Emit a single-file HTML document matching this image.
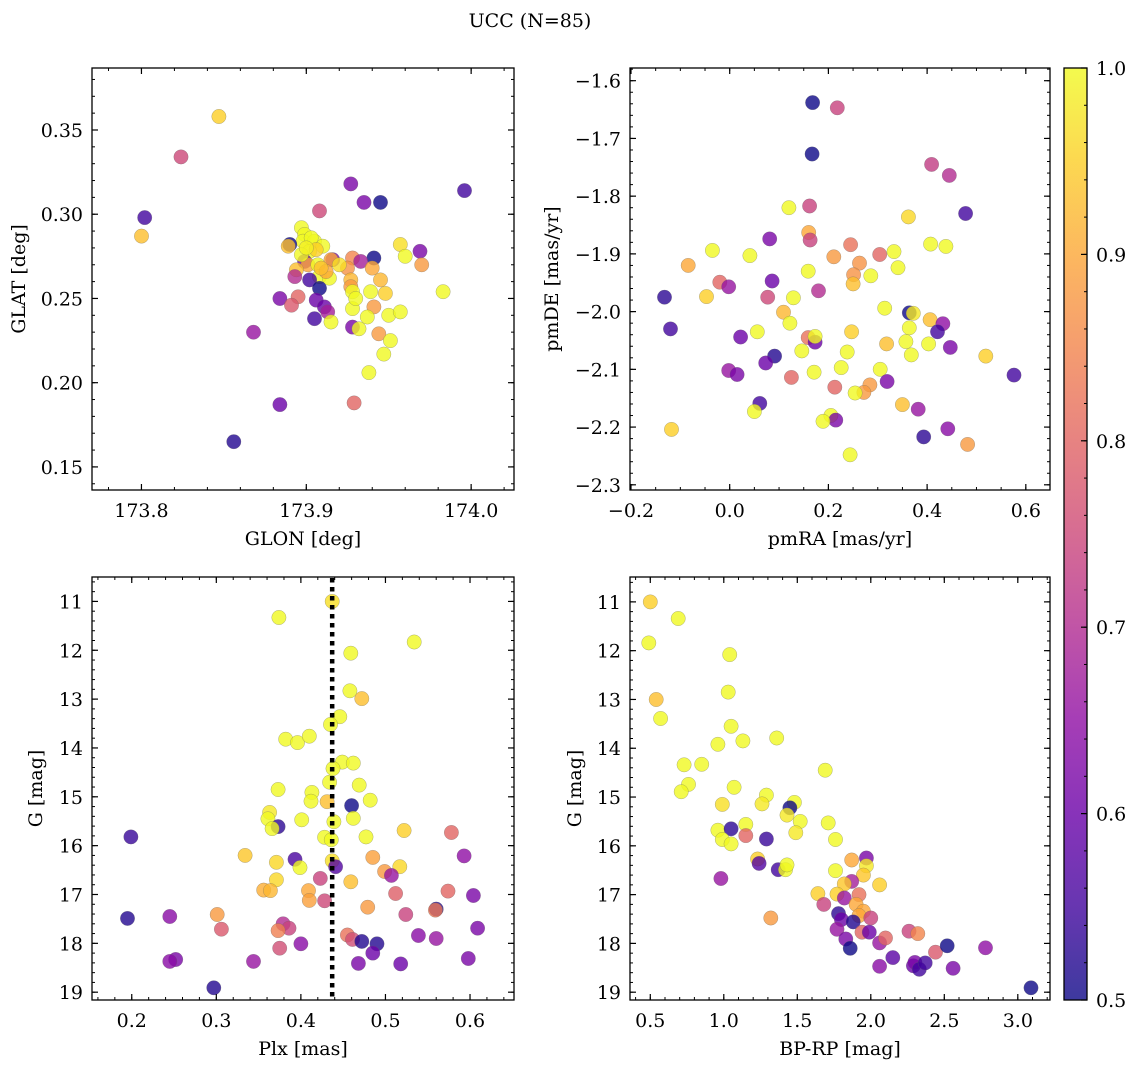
<!DOCTYPE html>
<html><head><meta charset="utf-8"><title>UCC (N=85)</title>
<style>
html,body{margin:0;padding:0;background:#fff;}
svg{display:block;font-family:"DejaVu Serif","Liberation Serif",serif;}
</style></head>
<body>
<svg id="fig" width="1136" height="1067" viewBox="0 0 1136 1067" xmlns="http://www.w3.org/2000/svg">
<text x="530" y="27" font-size="19" text-anchor="middle">UCC (N=85)</text>
</svg>
<script>
// ---- Panel 1: GLON vs GLAT ----
const p1X=[173.847,173.824,173.802,173.800,173.927,173.935,173.945,173.996,173.908,173.897,173.899,173.898,173.905,173.890,173.889,173.910,173.902,173.957,173.960,173.969,173.970,173.941,173.928,173.933,173.916,173.915,173.899,173.901,173.907,173.925,173.940,173.894,173.893,173.908,173.914,173.902,173.927,173.945,173.908,173.927,173.928,173.939,173.948,173.983,173.884,173.895,173.891,173.906,173.911,173.913,173.905,173.915,173.928,173.941,173.937,173.950,173.957,173.928,173.932,173.944,173.951,173.947,173.938,173.868,173.884,173.929,173.856,173.903,173.906,173.912,173.897,173.920,173.930,173.900,173.909];
const p1Y=[0.358,0.334,0.298,0.287,0.318,0.307,0.307,0.314,0.302,0.292,0.288,0.284,0.284,0.282,0.281,0.281,0.278,0.282,0.275,0.278,0.270,0.274,0.274,0.272,0.273,0.273,0.272,0.270,0.270,0.268,0.268,0.267,0.263,0.263,0.262,0.261,0.261,0.261,0.256,0.257,0.254,0.254,0.253,0.254,0.250,0.251,0.246,0.249,0.245,0.242,0.238,0.236,0.244,0.245,0.239,0.240,0.242,0.233,0.232,0.229,0.225,0.217,0.206,0.230,0.187,0.188,0.165,0.286,0.279,0.266,0.276,0.270,0.250,0.280,0.268];
const p1C=[0.95,0.75,0.55,0.93,0.62,0.62,0.5,0.55,0.75,1,1,1,1,0.5,0.93,1,1,0.97,1,0.62,0.88,0.5,0.85,0.68,0.62,0.9,0.6,0.9,1,0.87,0.9,0.93,0.7,1,1,0.55,0.92,0.92,0.5,0.88,1,1,0.95,1,0.62,0.8,0.78,0.6,0.6,0.68,0.55,1,1,0.88,1,1,1,0.62,1,0.88,1,1,1,0.66,0.6,0.8,0.52,1,0.95,0.9,1,0.97,1,0.99,0.93];
// ---- Panel 2: pmRA vs pmDE ----
const p2X=[0.168,0.218,0.167,0.409,0.445,0.162,0.120,0.478,0.362,0.160,0.163,0.081,0.245,0.407,0.438,-0.035,0.041,0.211,0.304,0.333,0.263,-0.084,0.341,0.159,0.286,0.251,0.250,0.086,-0.020,-0.002,0.180,-0.132,-0.047,0.077,0.129,0.109,0.314,0.364,0.372,0.122,-0.120,0.056,0.406,0.432,0.421,0.364,0.247,0.022,0.159,0.173,0.173,0.318,0.357,0.403,0.447,0.146,0.238,0.368,0.519,0.091,0.073,-0.002,0.015,0.125,0.171,0.226,0.305,0.576,0.213,0.319,0.284,0.272,0.254,0.061,0.050,0.350,0.382,0.205,0.215,0.189,-0.118,0.442,0.393,0.482,0.244];
const p2Y=[-1.638,-1.647,-1.727,-1.745,-1.764,-1.817,-1.820,-1.830,-1.836,-1.863,-1.876,-1.874,-1.884,-1.883,-1.887,-1.894,-1.903,-1.905,-1.901,-1.896,-1.916,-1.920,-1.924,-1.930,-1.938,-1.936,-1.952,-1.947,-1.949,-1.957,-1.964,-1.975,-1.974,-1.975,-1.976,-2.001,-1.994,-2.002,-2.003,-2.020,-2.030,-2.035,-2.014,-2.021,-2.035,-2.028,-2.035,-2.044,-2.045,-2.053,-2.043,-2.056,-2.052,-2.056,-2.062,-2.068,-2.070,-2.075,-2.077,-2.077,-2.089,-2.102,-2.109,-2.114,-2.105,-2.097,-2.100,-2.110,-2.131,-2.121,-2.127,-2.140,-2.141,-2.159,-2.173,-2.161,-2.169,-2.180,-2.188,-2.190,-2.204,-2.203,-2.217,-2.230,-2.248];
const p2C=[0.5,0.74,0.5,0.73,0.7,0.74,1,0.55,0.96,0.9,0.74,0.62,0.82,1,1,1,1,0.88,0.8,1,0.87,0.9,1,1,1,0.87,0.93,0.6,0.8,0.66,0.7,0.53,0.95,0.75,1,0.92,1,0.5,0.98,1,0.55,1,0.93,0.65,0.55,1,0.95,0.6,0.82,0.6,1,0.93,1,1,0.62,1,1,1,0.95,0.52,0.6,0.66,0.62,0.8,1,1,1,0.55,0.8,0.62,0.88,0.88,1,0.55,1,0.93,0.66,1,0.62,1,0.95,0.64,0.53,0.88,1];
// ---- Panel 3: Plx vs G ----
const p3X=[0.437,0.374,0.534,0.459,0.458,0.472,0.446,0.435,0.382,0.396,0.410,0.449,0.462,0.438,0.434,0.469,0.373,0.413,0.412,0.431,0.482,0.460,0.363,0.361,0.462,0.401,0.439,0.373,0.366,0.199,0.522,0.578,0.428,0.436,0.477,0.593,0.334,0.393,0.371,0.437,0.441,0.399,0.485,0.517,0.499,0.507,0.423,0.371,0.459,0.356,0.364,0.409,0.512,0.604,0.574,0.410,0.428,0.479,0.524,0.560,0.559,0.301,0.195,0.245,0.306,0.379,0.386,0.373,0.609,0.455,0.461,0.472,0.490,0.539,0.560,0.375,0.400,0.485,0.252,0.245,0.344,0.468,0.518,0.598,0.297];
const p3Y=[11.0,11.33,11.83,12.06,12.83,12.99,13.36,13.52,13.82,13.89,13.76,14.29,14.31,14.42,14.70,14.76,14.85,14.91,15.09,15.10,15.07,15.18,15.32,15.45,15.44,15.47,15.51,15.61,15.65,15.82,15.69,15.73,15.83,15.88,15.82,16.21,16.20,16.28,16.34,16.31,16.43,16.45,16.24,16.43,16.53,16.61,16.67,16.70,16.74,16.91,16.92,16.92,16.98,17.02,16.93,17.12,17.13,17.26,17.41,17.30,17.32,17.41,17.49,17.45,17.71,17.60,17.69,17.74,17.69,17.83,17.92,17.96,18.01,17.84,17.90,18.10,18.01,18.20,18.33,18.37,18.37,18.41,18.42,18.31,18.91];
const p3C=[0.97,1,1,1,1,0.93,1,1,1,1,1,1,1,1,1,1,1,1,1,0.93,1,0.5,0.98,1,1,1,1,0.53,1,0.54,0.95,0.8,1,1,1,0.65,0.94,0.56,0.96,0.97,0.57,1,0.89,0.96,0.88,0.66,0.74,0.96,0.93,0.91,0.92,0.9,0.79,0.62,0.8,0.89,0.75,0.88,0.74,0.52,0.83,0.88,0.52,0.64,0.78,0.7,0.74,0.84,0.62,0.82,0.76,0.52,0.52,0.64,0.66,0.76,0.64,0.6,0.62,0.64,0.66,0.62,0.6,0.62,0.52];
// ---- Panel 4: BP-RP vs G ----
const p4X=[0.50,0.69,0.49,1.04,0.54,1.03,0.57,1.05,0.96,1.13,1.36,0.73,0.85,0.76,0.71,1.07,1.69,0.99,1.29,1.26,1.48,1.45,1.43,1.52,1.49,1.71,1.76,0.96,1.05,1.15,1.15,0.99,1.05,1.29,1.23,1.24,1.37,1.42,1.43,0.98,1.87,1.97,1.97,1.95,1.76,1.87,1.82,2.06,1.64,1.77,1.68,1.82,1.92,1.90,1.95,1.92,2.00,1.32,1.78,1.80,1.88,1.77,1.94,1.99,1.83,1.86,2.06,2.10,2.26,2.32,2.44,2.52,2.78,2.15,2.06,2.29,2.30,2.33,2.37,2.56,3.09];
const p4Y=[11.0,11.34,11.84,12.08,13.0,12.85,13.39,13.55,13.92,13.85,13.79,14.34,14.33,14.74,14.89,14.80,14.45,15.15,14.96,15.14,15.11,15.22,15.37,15.50,15.73,15.53,15.87,15.68,15.65,15.56,15.79,15.87,15.96,15.86,16.27,16.36,16.49,16.49,16.39,16.67,16.29,16.25,16.41,16.60,16.51,16.73,16.78,16.80,16.98,16.99,17.20,17.07,17.00,17.20,17.34,17.43,17.48,17.48,17.39,17.51,17.56,17.71,17.77,17.77,17.91,18.10,17.99,17.89,17.75,17.80,18.18,18.05,18.09,18.29,18.47,18.46,18.39,18.53,18.40,18.51,18.91];
const p4C=[0.95,1,1,1,0.93,1,1,1,1,1,1,1,1,1,1,1,1,0.97,1,0.98,1,0.5,0.98,1,0.98,1,1,1,0.53,1,0.8,1,1,0.54,0.95,0.57,0.55,1,1,0.66,0.9,0.62,0.98,0.94,1,0.68,0.94,0.95,0.95,0.95,0.74,0.66,0.82,0.9,0.9,0.9,0.74,0.88,0.53,0.6,0.52,0.66,0.8,0.6,0.62,0.5,0.66,0.8,0.74,0.85,0.78,0.5,0.65,0.58,0.64,0.6,0.62,0.55,0.55,0.62,0.5];
// ---- tick labels ----
const p1XTicks=[173.8,173.9,174.0], p1YTicks=[0.15,0.20,0.25,0.30,0.35];
const p2XTicks=[-0.2,0.0,0.2,0.4,0.6], p2YTicks=[-1.6,-1.7,-1.8,-1.9,-2.0,-2.1,-2.2,-2.3];
const p3XTicks=[0.2,0.3,0.4,0.5,0.6], p3YTicks=[11,12,13,14,15,16,17,18,19];
const p4XTicks=[0.5,1.0,1.5,2.0,2.5,3.0], p4YTicks=[11,12,13,14,15,16,17,18,19];
const cbTicks=[0.5,0.6,0.7,0.8,0.9,1.0];
const plxLine=[0.437];

const NS="http://www.w3.org/2000/svg";
const svg=document.getElementById('fig');
const FS=19;
function mk(tag,attrs,parent){const e=document.createElementNS(NS,tag);for(const k in attrs)e.setAttribute(k,attrs[k]);(parent||svg).appendChild(e);return e;}
const stops=[[13,8,135],[65,4,157],[106,0,168],[143,13,164],[177,42,144],[204,71,120],[225,100,98],[242,132,75],[252,166,54],[252,206,37],[240,249,33]];
function plasma(t){t=Math.max(0,Math.min(1,t));const f=t*10,i=Math.min(9,Math.floor(f)),r=f-i;const a=stops[i],b=stops[i+1];return `rgb(${Math.round(a[0]+(b[0]-a[0])*r)},${Math.round(a[1]+(b[1]-a[1])*r)},${Math.round(a[2]+(b[2]-a[2])*r)})`;}
function cmap(v){return plasma((v-0.5)/0.5);}
function fmt(v,d){return (v<0?'\u2212':'')+Math.abs(v).toFixed(d);}

function panel(cfg){
  const {name,L,R,T,B,xl,yl,inv,xs,ys,cs,xt,yt,xd,yd,xminor,yminor,xlabel,ylabel,ylx}=cfg;
  const sx=v=>L+(v-xl[0])/(xl[1]-xl[0])*(R-L);
  const sy=inv?(v=>T+(v-yl[0])/(yl[1]-yl[0])*(B-T)):(v=>B-(v-yl[0])/(yl[1]-yl[0])*(B-T));
  const g=mk('g',{});
  
  
  const cid='clip-'+name;
  const cp=mk('clipPath',{id:cid},g);mk('rect',{x:L,y:T,width:R-L,height:B-T},cp);
  const pts=mk('g',{'clip-path':`url(#${cid})`},g);
  for(let i=0;i<xs.length;i++){
    const c=mk('circle',{cx:sx(xs[i]).toFixed(1),cy:sy(ys[i]).toFixed(1),r:7.2,fill:cmap(cs[i]),'fill-opacity':0.8,stroke:'#666','stroke-opacity':0.5,'stroke-width':0.5},pts);
    
    
  }
  if(cfg.vline){for(const v of cfg.vline){const l=mk('line',{x1:sx(v),x2:sx(v),y1:T+1,y2:B,stroke:'#000','stroke-width':4.5,'stroke-dasharray':'4.5,4.5'},g);
    
    }}
  const lo=Math.min(xl[0],xl[1]),hi=Math.max(xl[0],xl[1]);
  for(let v=Math.ceil(lo/xminor-1e-6)*xminor;v<=hi+1e-9;v+=xminor){const x=sx(v);mk('line',{x1:x,x2:x,y1:B,y2:B-3,stroke:'#000','stroke-width':1},g);mk('line',{x1:x,x2:x,y1:T,y2:T+3,stroke:'#000','stroke-width':1},g);}
  const ylo=Math.min(yl[0],yl[1]),yhi=Math.max(yl[0],yl[1]);
  for(let v=Math.ceil(ylo/yminor-1e-6)*yminor;v<=yhi+1e-9;v+=yminor){const y=sy(v);mk('line',{x1:L,x2:L+3,y1:y,y2:y,stroke:'#000','stroke-width':1},g);mk('line',{x1:R,x2:R-3,y1:y,y2:y,stroke:'#000','stroke-width':1},g);}
  for(const v of xt){const x=sx(v);mk('line',{x1:x,x2:x,y1:B,y2:B-6,stroke:'#000','stroke-width':1.2},g);mk('line',{x1:x,x2:x,y1:T,y2:T+6,stroke:'#000','stroke-width':1.2},g);
    const t=mk('text',{x:x,y:B+27,'font-size':FS,'text-anchor':'middle'},g);t.textContent=fmt(v,xd);
    
    }
  for(const v of yt){const y=sy(v);mk('line',{x1:L,x2:L+6,y1:y,y2:y,stroke:'#000','stroke-width':1.2},g);mk('line',{x1:R,x2:R-6,y1:y,y2:y,stroke:'#000','stroke-width':1.2},g);
    const t=mk('text',{x:L-9,y:y+7,'font-size':FS,'text-anchor':'end'},g);t.textContent=fmt(v,yd);
    
    }
  const fr=mk('rect',{x:L,y:T,width:R-L,height:B-T,fill:'none',stroke:'#000','stroke-width':1.3},g);
  
  
  const xa=mk('text',{x:(L+R)/2,y:B+55,'font-size':FS,'text-anchor':'middle'},g);xa.textContent=xlabel;
  
  
  const cy=(T+B)/2;
  const ya=mk('text',{x:ylx,y:cy,'font-size':FS,'text-anchor':'middle',transform:`rotate(-90 ${ylx} ${cy})`},g);ya.textContent=ylabel;
  
  
}
panel({name:'glon-glat-panel',L:92,R:514,T:68,B:490,xl:[173.770,174.026],yl:[0.1363,0.3868],inv:false,xs:p1X,ys:p1Y,cs:p1C,xt:p1XTicks,yt:p1YTicks,xd:1,yd:2,xminor:0.02,yminor:0.01,xlabel:'GLON [deg]',ylabel:'GLAT [deg]',ylx:25});
panel({name:'pm-panel',L:630,R:1050,T:68,B:490,xl:[-0.202,0.649],yl:[-2.309,-1.578],inv:false,xs:p2X,ys:p2Y,cs:p2C,xt:p2XTicks,yt:p2YTicks,xd:1,yd:1,xminor:0.05,yminor:0.02,xlabel:'pmRA [mas/yr]',ylabel:'pmDE [mas/yr]',ylx:558});
panel({name:'plx-g-panel',L:92,R:514,T:577,B:1000,xl:[0.153,0.652],yl:[10.50,19.16],inv:true,xs:p3X,ys:p3Y,cs:p3C,xt:p3XTicks,yt:p3YTicks,xd:1,yd:0,xminor:0.02,yminor:0.2,xlabel:'Plx [mas]',ylabel:'G [mag]',ylx:42,vline:plxLine});
panel({name:'cmd-panel',L:630,R:1050,T:577,B:1000,xl:[0.362,3.219],yl:[10.49,19.16],inv:true,xs:p4X,ys:p4Y,cs:p4C,xt:p4XTicks,yt:p4YTicks,xd:1,yd:0,xminor:0.1,yminor:0.2,xlabel:'BP-RP [mag]',ylabel:'G [mag]',ylx:581});

// colorbar
(function(){
  const L=1064,R=1087,T=68,B=1000;
  const g=mk('g',{});
  
  
  const defs=mk('defs',{},g);
  const lg=mk('linearGradient',{id:'cbgrad',x1:0,y1:1,x2:0,y2:0},defs);
  for(let i=0;i<=20;i++){mk('stop',{offset:(i/20),'stop-color':plasma(i/20),'stop-opacity':0.8},lg);}
  mk('rect',{x:L,y:T,width:R-L,height:B-T,fill:'url(#cbgrad)'},g);
  const sy=v=>B-(v-0.5)/0.5*(B-T);
  for(let v=0.5;v<=1.0001;v+=0.02){const y=sy(v);mk('line',{x1:R,x2:R-3,y1:y,y2:y,stroke:'#000','stroke-width':1},g);}
  for(const v of cbTicks){const y=sy(v);mk('line',{x1:R,x2:R-6,y1:y,y2:y,stroke:'#000','stroke-width':1.2},g);
    const t=mk('text',{x:R+9,y:y+7,'font-size':FS},g);t.textContent=v.toFixed(1);
    
    }
  mk('rect',{x:L,y:T,width:R-L,height:B-T,fill:'none',stroke:'#000','stroke-width':1.3},g);
})();
</script>
</body></html>
